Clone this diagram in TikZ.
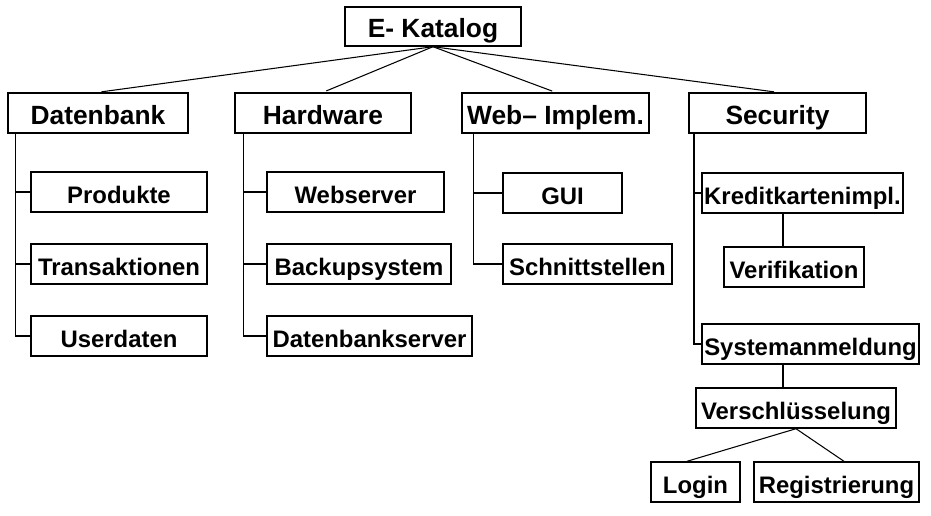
\documentclass[tikz,border=0pt]{standalone}
\usepackage{fontspec}
\setmainfont{Liberation Sans}
\usepackage{tikz}

\begin{document}
\begin{tikzpicture}[x=0.02cm, y=-0.02cm,
        box/.style = {draw,
            line width=0.8pt,
            inner sep=0pt,
            minimum height=0.8cm,
            text height=12.8pt,
            text depth=0pt,
            font=\bfseries\fontsize{13.6}{16}\selectfont},
        head/.style = {box,
            font=\bfseries\fontsize{15}{18}\selectfont},
        link/.style = {line width=0.6pt},
        boldlink/.style = {line width=1.3pt}]

        \useasboundingbox (0,0) rectangle (931,515);

        % Root
        \node[head, minimum width=3.52cm, minimum height=0.78cm] (kat) at (433,26.5) {E- Katalog};

        % Main areas
        \node[head, minimum width=3.6cm] (db) at (98,113) {Datenbank};
        \node[head, minimum width=3.52cm] (hw) at (323,113) {Hardware};
        \node[head, minimum width=3.74cm] (web) at (555.5,113) {Web– Implem.};
        \node[head, minimum width=3.54cm] (sec) at (777.5,113) {Security};

        \foreach \n in {db,hw,web,sec}
            \draw[link, shorten >=2pt] (kat.south) -- (\n.north);

        % Datenbank
        \node[box, minimum width=3.52cm] (prod) at (119,192) {Produkte};
        \node[box, minimum width=3.52cm] (tra) at (119,264) {Transaktionen};
        \node[box, minimum width=3.52cm] (usr) at (119,336) {Userdaten};

        \foreach \n in {prod,tra,usr}
            \draw[link] (db.south west) ++(8,0) |- (\n.west);

        % Hardware
        \node[box, minimum width=3.54cm] (wsv) at (355.5,192) {Webserver};
        \node[box, minimum width=3.68cm] (bak) at (359,264) {Backupsystem};
        \node[box, minimum width=4.1cm] (dbs) at (369.5,336) {Datenbankserver};

        \foreach \n in {wsv,bak,dbs}
            \draw[link] (hw.south west) ++(9,0) |- (\n.west);

        % Web- Implementierung
        \node[box, minimum width=2.38cm] (gui) at (562.5,193) {GUI};
        \node[box, minimum width=3.38cm] (sch) at (587.5,264) {Schnittstellen};

        \foreach \n in {gui,sch}
            \draw[link] (web.south west) ++(12,0) |- (\n.west);

        % Security
        \node[box, minimum width=4.02cm] (kre) at (802.5,193) {Kreditkartenimpl.};
        \node[box, minimum width=2.8cm] (ver) at (794,267) {Verifikation};
        \node[box, minimum width=4.34cm] (sys) at (810.5,344) {Systemanmeldung};
        \node[box, minimum width=4cm] (vsl) at (796,408) {Verschlüsselung};
        \node[box, minimum width=1.78cm] (log) at (695.5,482) {Login};
        \node[box, minimum width=3.3cm] (reg) at (836.5,482) {Registrierung};

        \foreach \n in {kre,sys}
            \draw[boldlink] (sec.south west) ++(6,0) |- (\n.west);
        \draw[boldlink] ([xshift=-0.22cm]ver.north) -- ([xshift=-0.22cm]ver.north |- kre.south);
        \draw[boldlink] ([xshift=-0.26cm]vsl.north) -- ([xshift=-0.26cm]vsl.north |- sys.south);
        \draw[link] (vsl.south) -- ([xshift=-0.17cm]log.north);
        \draw[link] (vsl.south) -- ([xshift=0.15cm]reg.north);

    \end{tikzpicture}
\end{document}
